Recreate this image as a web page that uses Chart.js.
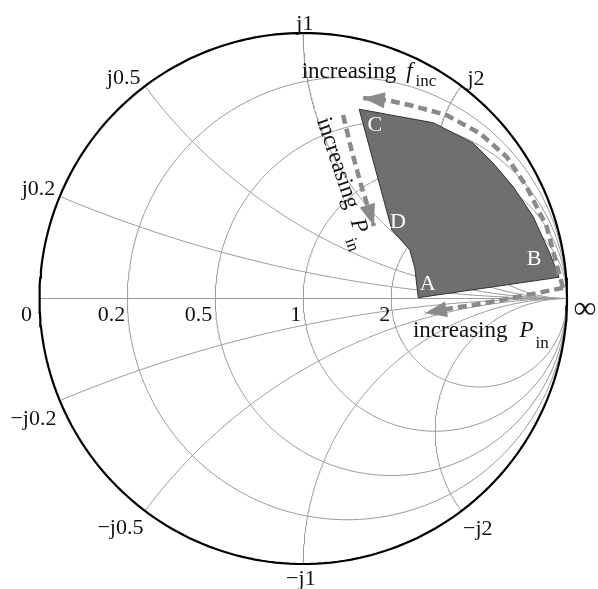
<!DOCTYPE html>
<html><head><meta charset="utf-8">
<script src="https://cdn.jsdelivr.net/npm/chart.js@4/dist/chart.umd.min.js"></script>
<style>html,body{margin:0;padding:0;background:#fff}</style>
</head><body>
<canvas id="c" width="598" height="589"></canvas>
<script>
// ---- Smith chart grid values ----
const resistanceCircles = [0.2, 0.5, 1, 2];
const reactanceArcs = [0.2, 0.5, 1, 2, -0.2, -0.5, -1, -2];
const realAxisLabels = ['0', '0.2', '0.5', '1', '2', '\u221E'];
const reactanceLabels = ['j0.2', 'j0.5', 'j1', 'j2', '\u2212j0.2', '\u2212j0.5', '\u2212j1', '\u2212j2'];

// ---- Shaded region (reflection coefficient plane, Γ) ----
const regionGammaX = [0.212, 0.493, 0.644, 0.720, 0.796, 0.872, 0.935, 0.970, 0.436, 0.423, 0.404, 0.336, 0.212];
const regionGammaY = [0.713, 0.662, 0.585, 0.510, 0.421, 0.308, 0.170, 0.080, 0.003, 0.115, 0.183, 0.258, 0.713];
const regionLabels = ['A', 'B', 'C', 'D'];

// ---- Dashed arrows (Γ plane) ----
const arrowFincX = [0.985, 0.973, 0.923, 0.847, 0.771, 0.670, 0.543, 0.417, 0.328, 0.226];
const arrowFincY = [0.040, 0.082, 0.270, 0.421, 0.534, 0.622, 0.691, 0.725, 0.745, 0.755];
const arrowPinVX = [0.151, 0.183, 0.221, 0.268];
const arrowPinVY = [0.691, 0.559, 0.421, 0.273];
const arrowPinHX = [0.985, 0.833, 0.670, 0.567, 0.461];
const arrowPinHY = [0.040, 0.010, -0.021, -0.036, -0.056];

function gammaOf(r, x) {
  const d = (r + 1) * (r + 1) + x * x;
  return { x: (r * r + x * x - 1) / d, y: 2 * x / d };
}
function resistancePts(r) {
  const pts = [{x: 1, y: 0}];
  const N = 240;
  for (let i = 1; i < N; i++) {
    const phi = -Math.PI / 2 + Math.PI * i / N;
    pts.push(gammaOf(r, Math.tan(phi)));
  }
  pts.push({x: 1, y: 0});
  return pts;
}
function reactancePts(xv) {
  const pts = [];
  const N = 160;
  for (let i = 0; i < N; i++) {
    const phi = (Math.PI / 2) * i / N;
    pts.push(gammaOf(Math.tan(phi), xv));
  }
  pts.push({x: 1, y: 0});
  return pts;
}
const zip = (xs, ys) => xs.map((v, i) => ({x: v, y: ys[i]}));

const GRID = '#9a9a9a';
const ARROW = '#8a8a8a';
const datasets = [];
// arrows (on top)
[[arrowFincX, arrowFincY], [arrowPinVX, arrowPinVY], [arrowPinHX, arrowPinHY]].forEach(([xs, ys], k) => {
  datasets.push({ label: 'arrow' + k, data: zip(xs, ys), showLine: true, borderColor: ARROW, borderWidth: 4.5,
    borderDash: [9, 5], borderCapStyle: 'butt', pointRadius: 0, fill: false, order: 0, clip: false, isArrow: true });
});
// shaded region
datasets.push({ label: 'region', data: zip(regionGammaX, regionGammaY), showLine: true, borderColor: '#333',
  borderWidth: 1, backgroundColor: '#6f6f6f', fill: 'shape', pointRadius: 0, order: 1, clip: false });
// outer circle r = 0
datasets.push({ label: 'outer', data: resistancePts(0), showLine: true, borderColor: '#000', borderWidth: 2.2,
  pointRadius: 0, fill: false, order: 2, clip: false });
// real axis
datasets.push({ label: 'axis', data: [{x: -1, y: 0}, {x: 1, y: 0}], showLine: true, borderColor: GRID, borderWidth: 1,
  pointRadius: 0, fill: false, order: 3, clip: false });
resistanceCircles.forEach(r => datasets.push({ label: 'r' + r, data: resistancePts(r), showLine: true,
  borderColor: GRID, borderWidth: 1, pointRadius: 0, fill: false, order: 3, clip: false }));
reactanceArcs.forEach(xv => datasets.push({ label: 'x' + xv, data: reactancePts(xv), showLine: true,
  borderColor: GRID, borderWidth: 1, pointRadius: 0, fill: false, order: 3, clip: false }));

// label anchor positions (Γ plane) - layout only
const realLabelPos = [[-1.049, -0.062], [-0.727, -0.062], [-0.397, -0.062], [-0.028, -0.062], [0.309, -0.062], [1.068, -0.040]];
const reactLabelPos = [[-1.004, 0.412], [-0.681, 0.830], [0.006, 1.034], [0.655, 0.827],
                       [-1.023, -0.454], [-0.693, -0.864], [-0.009, -1.057], [0.662, -0.869]];
const regionLabelPos = [[0.472, 0.055], [0.875, 0.149], [0.271, 0.652], [0.359, 0.288]];

const arrowHeadPlugin = {
  id: 'arrowHeads',
  afterDatasetsDraw(chart) {
    const c = chart.ctx, xs = chart.scales.x, ys = chart.scales.y;
    chart.data.datasets.forEach(ds => {
      if (!ds.isArrow) return;
      const n = ds.data.length;
      const tx = xs.getPixelForValue(ds.data[n - 1].x), ty = ys.getPixelForValue(ds.data[n - 1].y);
      const px = xs.getPixelForValue(ds.data[n - 2].x), py = ys.getPixelForValue(ds.data[n - 2].y);
      const a = Math.atan2(ty - py, tx - px);
      const L = 22, W = 8;
      c.save();
      c.fillStyle = ARROW;
      c.beginPath();
      c.moveTo(tx, ty);
      c.lineTo(tx - L * Math.cos(a) - W * Math.sin(a), ty - L * Math.sin(a) + W * Math.cos(a));
      c.lineTo(tx - L * Math.cos(a) + W * Math.sin(a), ty - L * Math.sin(a) - W * Math.cos(a));
      c.closePath();
      c.fill();
      c.restore();
    });
  }
};

const SERIF = '"Liberation Serif", "DejaVu Serif", serif';
function richText(c, x, y, angle, parts) {
  c.save();
  c.translate(x, y);
  c.rotate(angle);
  let cx = 0;
  parts.forEach(p => {
    c.font = p.font;
    c.fillText(p.t, cx, p.dy || 0);
    cx += c.measureText(p.t).width + (p.gap || 0);
  });
  c.restore();
}
const textPlugin = {
  id: 'smithText',
  afterDraw(chart) {
    const c = chart.ctx, xs = chart.scales.x, ys = chart.scales.y;
    const P = (g) => [xs.getPixelForValue(g[0]), ys.getPixelForValue(g[1])];
    c.save();
    c.fillStyle = '#111';
    c.textAlign = 'center';
    c.textBaseline = 'middle';
    realAxisLabels.forEach((t, i) => {
      c.font = (t === '\u221E' ? '32px ' : '22px ') + SERIF;
      const [x, y] = P(realLabelPos[i]);
      c.fillText(t, x, y);
    });
    c.font = '22px ' + SERIF;
    reactanceLabels.forEach((t, i) => {
      const [x, y] = P(reactLabelPos[i]);
      c.fillText(t, x, y);
    });
    c.fillStyle = '#fff';
    regionLabels.forEach((t, i) => {
      const [x, y] = P(regionLabelPos[i]);
      c.fillText(t, x, y);
    });
    c.fillStyle = '#111';
    c.textAlign = 'left';
    c.textBaseline = 'alphabetic';
    // top: increasing f_inc
    let [x, y] = P([-0.006, 0.830]);
    richText(c, x, y, 0, [
      {t: 'increasing', font: '23px ' + SERIF, gap: 10},
      {t: 'f', font: 'italic 23px ' + SERIF, gap: 3},
      {t: 'inc', font: '17px ' + SERIF, dy: 8}
    ]);
    // bottom: increasing P_in
    [x, y] = P([0.416, -0.145]);
    richText(c, x, y, 0, [
      {t: 'increasing', font: '23px ' + SERIF, gap: 12},
      {t: 'P', font: 'italic 23px ' + SERIF, gap: 2},
      {t: 'in', font: '17px ' + SERIF, dy: 11}
    ]);
    // vertical: increasing P_in
    [x, y] = P([0.051, 0.671]);
    richText(c, x, y, 71.5 * Math.PI / 180, [
      {t: 'increasing', font: '23px ' + SERIF, gap: 12},
      {t: 'P', font: 'italic 23px ' + SERIF, gap: 2},
      {t: 'in', font: '17px ' + SERIF, dy: 11}
    ]);
    c.restore();
  }
};

new Chart(document.getElementById('c').getContext('2d'), {
  type: 'scatter',
  data: { datasets },
  options: {
    responsive: false, animation: false, devicePixelRatio: 1,
    layout: { padding: { left: 39.5, right: 31, top: 33, bottom: 25 } },
    scales: {
      x: { type: 'linear', min: -1, max: 1, display: false },
      y: { type: 'linear', min: -1, max: 1, display: false }
    },
    plugins: { legend: { display: false }, tooltip: { enabled: false } },
    elements: { point: { radius: 0 }, line: { tension: 0 } }
  },
  plugins: [arrowHeadPlugin, textPlugin]
});
</script>
</body></html>
